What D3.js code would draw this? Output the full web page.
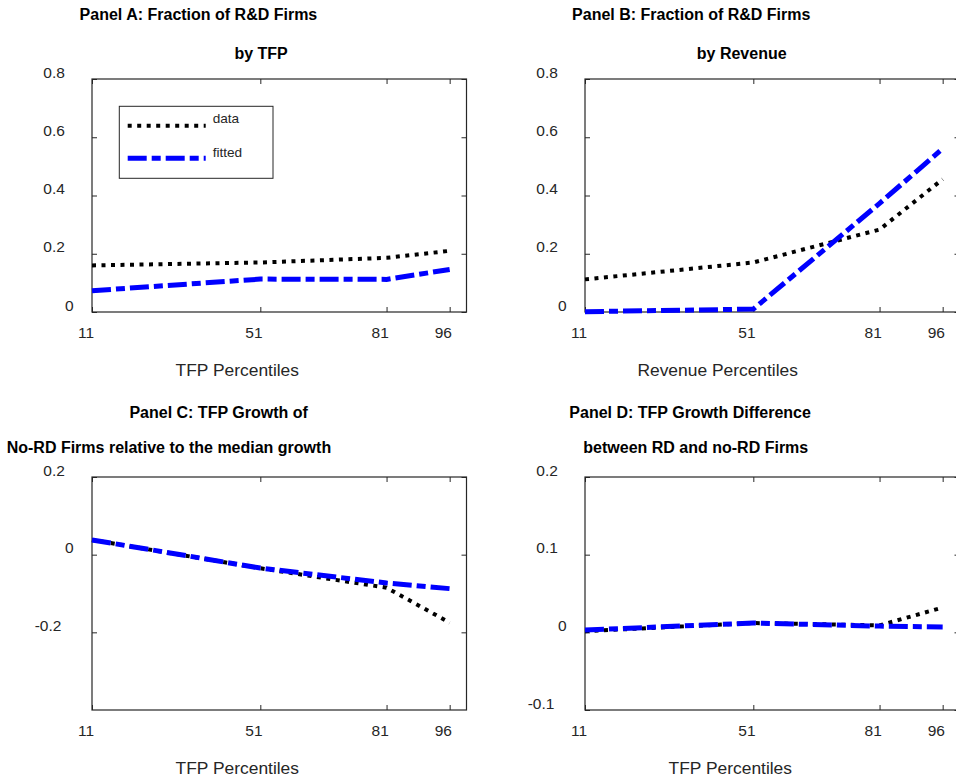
<!DOCTYPE html>
<html>
<head>
<meta charset="utf-8">
<script src="https://cdn.jsdelivr.net/npm/d3@7"></script>
<style>
  html, body { margin: 0; padding: 0; background: #fff; }
  svg { display: block; font-family: "Liberation Sans", Arial, sans-serif; }
</style>
</head>
<body>
<svg id="chart" width="956" height="780"></svg>
<script>
// Percentile bins on the horizontal axis
const percentiles = [11, 51, 81, 96];
const xTicks = [11, 51, 81, 96];

// Panel A: fraction of R&D firms by TFP percentile
const rdShareTfpData   = [0.160, 0.170, 0.186, 0.210];
const rdShareTfpFitted = [0.073, 0.113, 0.112, 0.146];
// Panel B: fraction of R&D firms by revenue percentile
const rdShareRevData   = [0.112, 0.170, 0.283, 0.456];
const rdShareRevFitted = [0.001, 0.010, 0.373, 0.561];
// Panel C: TFP growth of no-RD firms relative to the median
const noRdGrowthData   = [0.038, -0.035, -0.085, -0.175];
const noRdGrowthFitted = [0.038, -0.0345, -0.073, -0.0875];
// Panel D: TFP growth difference between RD and no-RD firms
const growthDiffData   = [0.0015, 0.012, 0.009, 0.032];
const growthDiffFitted = [0.003, 0.012, 0.008, 0.007];

// Vertical tick values
const yTicksShare = [0, 0.2, 0.4, 0.6, 0.8];
const yTicksNoRd  = [-0.2, 0, 0.2];
const yTicksDiff  = [-0.1, 0, 0.1, 0.2];

const seriesNames = ["data", "fitted"];

const panels = [
  { title: ["Panel A: Fraction of R&D Firms", "by TFP"], xLabel: "TFP Percentiles",
    data: rdShareTfpData, fitted: rdShareTfpFitted, yDomain: [0, 0.8], yTicks: yTicksShare, legend: true },
  { title: ["Panel B: Fraction of R&D Firms", "by Revenue"], xLabel: "Revenue Percentiles",
    data: rdShareRevData, fitted: rdShareRevFitted, yDomain: [0, 0.8], yTicks: yTicksShare, legend: false },
  { title: ["Panel C: TFP Growth of", "No-RD Firms relative to the median growth"], xLabel: "TFP Percentiles",
    data: noRdGrowthData, fitted: noRdGrowthFitted, yDomain: [-0.4, 0.2], yTicks: yTicksNoRd, legend: false },
  { title: ["Panel D: TFP Growth Difference", "between RD and no-RD Firms"], xLabel: "TFP Percentiles",
    data: growthDiffData, fitted: growthDiffFitted, yDomain: [-0.1, 0.2], yTicks: yTicksDiff, legend: false }
];

// Layout
const colLeft = [92, 585];
const rowTop = [79, 477];
const plotW = 374.5, plotH = 233;
const titleBaselines = [[20, 59], [418.3, 453.3]];
const axisColor = "#262626";
const dataStyle = { stroke: "#000000", width: 4, dash: "4 5.5" };
const fittedStyle = { stroke: "#0000ff", width: 5, dash: "19 5 9 5" };

const svg = d3.select("#chart");

const fmt = v => (v === 0 ? "0" : String(+v.toFixed(2)).replace("\u2212", "-"));

// Labels are laid out as if their text were wider than it renders,
// so each one is nudged back by a share of its measured width.
function nudgeMiddle(sel, extra) {
  sel.each(function () {
    const w = this.getComputedTextLength();
    d3.select(this).attr("dx", -(0.34 * w + (extra || 0)));
  });
}
function nudgeEnd(sel) {
  sel.each(function () {
    const w = this.getComputedTextLength();
    d3.select(this).attr("dx", -0.68 * w);
  });
}

panels.forEach((p, i) => {
  const col = i % 2, row = Math.floor(i / 2);
  const left = colLeft[col], top = rowTop[row];
  const bottom = top + plotH, right = left + plotW;

  const x = d3.scaleLinear().domain([11, 100]).range([left, right]);
  const y = d3.scaleLinear().domain(p.yDomain).range([bottom, top]);

  const g = svg.append("g");

  // Inward ticks on all four sides
  const axB = g.append("g").attr("transform", `translate(0,${bottom})`)
    .call(d3.axisBottom(x).tickValues(xTicks).tickSize(-5).tickSizeOuter(0).tickFormat(d3.format("d")));
  const axL = g.append("g").attr("transform", `translate(${left},0)`)
    .call(d3.axisLeft(y).tickValues(p.yTicks).tickSize(-5).tickSizeOuter(0).tickFormat(fmt));
  g.append("g").attr("transform", `translate(0,${top})`)
    .call(d3.axisTop(x).tickValues(xTicks).tickSize(-5).tickSizeOuter(0).tickFormat(""));
  g.append("g").attr("transform", `translate(${right},0)`)
    .call(d3.axisRight(y).tickValues(p.yTicks).tickSize(-5).tickSizeOuter(0).tickFormat(""));

  g.selectAll(".domain").remove();
  g.selectAll(".tick line").attr("stroke", axisColor).attr("stroke-width", 1);

  axB.selectAll(".tick text")
    .attr("dy", null).attr("y", 26)
    .attr("fill", axisColor).attr("font-size", 15.5)
    .attr("font-family", "Liberation Sans, Arial, sans-serif")
    .call(nudgeMiddle, 1);
  axL.selectAll(".tick text")
    .attr("dy", null).attr("y", -2).attr("x", -12.5)
    .attr("fill", axisColor).attr("font-size", 15.5)
    .attr("font-family", "Liberation Sans, Arial, sans-serif")
    .call(nudgeEnd);

  // Frame
  g.append("rect")
    .attr("x", left).attr("y", top).attr("width", plotW).attr("height", plotH)
    .attr("fill", "none").attr("stroke", axisColor).attr("stroke-width", 1.2);

  // Series
  const line = d3.line().x((d, j) => x(percentiles[j])).y(d => y(d));
  [[p.data, dataStyle], [p.fitted, fittedStyle]].forEach(([vals, st]) => {
    g.append("path").datum(vals)
      .attr("d", line)
      .attr("fill", "none")
      .attr("stroke", st.stroke)
      .attr("stroke-width", st.width)
      .attr("stroke-dasharray", st.dash)
      .attr("stroke-linecap", "butt")
      .attr("stroke-linejoin", "miter");
  });

  // Titles
  const cx = (left + right) / 2;
  p.title.forEach((t, k) => {
    g.append("text")
      .attr("x", cx).attr("y", titleBaselines[row][k])
      .attr("text-anchor", "middle")
      .attr("font-size", 16).attr("font-weight", "bold").attr("fill", "#000")
      .text(t)
      .call(nudgeMiddle, 0);
  });

  // Axis label
  g.append("text")
    .attr("x", cx).attr("y", bottom + 63.8)
    .attr("text-anchor", "middle")
    .attr("font-size", 17.4).attr("fill", axisColor)
    .text(p.xLabel)
    .call(nudgeMiddle, 0);

  // Legend
  if (p.legend) {
    const lx = left + 27.3, ly = top + 27.3;
    const lg = g.append("g");
    lg.append("rect")
      .attr("x", lx).attr("y", ly).attr("width", 153.7).attr("height", 72)
      .attr("fill", "#fff").attr("stroke", axisColor).attr("stroke-width", 1);
    [dataStyle, fittedStyle].forEach((st, k) => {
      const yy = ly + [19.4, 52][k];
      lg.append("line")
        .attr("x1", lx + 8.4).attr("x2", lx + 86.4)
        .attr("y1", yy).attr("y2", yy)
        .attr("stroke", st.stroke).attr("stroke-width", st.width)
        .attr("stroke-dasharray", st.dash);
      lg.append("text")
        .attr("x", lx + 93.4).attr("y", ly + [17, 50.4][k])
        .attr("font-size", 13.6).attr("fill", axisColor)
        .text(seriesNames[k]);
    });
  }
});
</script>
</body>
</html>
